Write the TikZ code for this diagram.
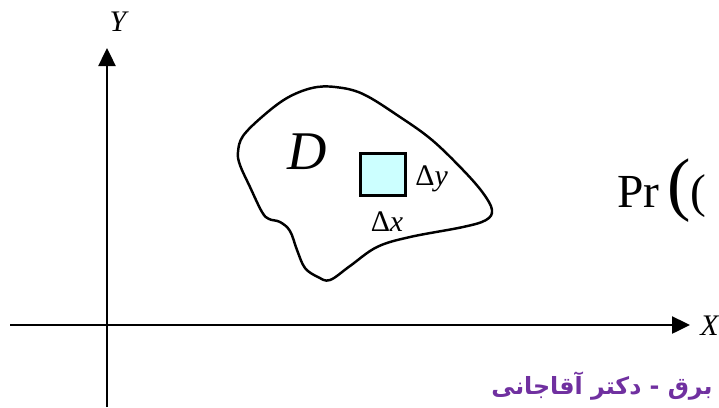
\documentclass[tikz,border=0pt]{standalone}
\usepackage{fontspec}
\setmainfont{Liberation Serif}
\newfontfamily\arabicfont[Script=Arabic]{DejaVu Sans}
\TeXXeTstate=1
\usetikzlibrary{arrows.meta}
\definecolor{titlepurple}{RGB}{112,48,160}
\definecolor{cellcyan}{RGB}{204,255,255}

\begin{document}
\begin{tikzpicture}[x=0.02cm, y=-0.02cm,
    axis/.style={-{Triangle[length=0.36cm, width=0.34cm]}, line width=1.4pt},
    region/.style={line width=1.4pt},
    cell/.style={draw, line width=1.8pt, fill=cellcyan, minimum width=0.9cm,
                 minimum height=0.85cm, inner sep=0pt},
    axislabel/.style={font=\fontsize{17}{17}\selectfont\itshape, inner sep=0pt},
    delta/.style={font=\fontsize{17}{17}\selectfont, inner sep=0pt},
]
    \useasboundingbox (0,0) rectangle (719,407);

    % axes
    \coordinate (ybottom) at (107,407);
    \coordinate (ytip) at (107,48);
    \coordinate (xleft) at (10,325);
    \coordinate (xtip) at (690,325);
    \draw[axis] (ybottom) -- (ytip);
    \draw[axis] (xleft) -- (xtip);
    \node[axislabel] (ylabel) at (118,22) {Y};
    \node[axislabel, anchor=west] (xlabel) at (700,326) {X};

    % region D
    \draw[region] plot[smooth cycle, tension=0.6] coordinates {
        (238,152) (243,136) (263,116) (287,98) (312,88) (335,87) (363,94)
        (400,117) (432,140) (463,170) (483,193) (492,210) (486,220)
        (463,227) (410,237) (377,247) (350,266) (330,280) (318,277)
        (305,268) (297,250) (290,231) (280,222) (269,219) (262,212)
        (250,187) (240,165)};
    \node[font=\fontsize{31}{31}\selectfont\itshape] (dlabel) at (307,152) {D};

    % small cell
    \node[cell] (cell) at (383,174.5) {};
    \node[delta, anchor=west] (dy) at (415,179) {Δ\textit{y}};
    \node[delta] (dx) at (387,222) {Δ\textit{x}};

    % cut-off formula
    \node[font=\fontsize{27}{27}\selectfont, anchor=base west, inner sep=0pt] (prob)
        at (617,207) {Pr\,{\fontsize{40}{40}\selectfont(}(};

    % footer
    \node[font=\fontsize{13.5}{13.5}\selectfont\arabicfont\bfseries, text=titlepurple,
          anchor=east, inner sep=0pt] (footer) at (713,386)
        {\beginR برق - دکتر آقاجانی\endR};
\end{tikzpicture}
\end{document}
